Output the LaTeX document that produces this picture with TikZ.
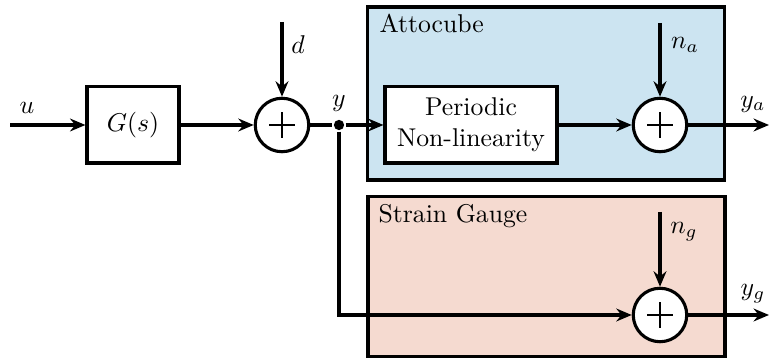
\documentclass[tikz,border=0pt]{standalone}
\usetikzlibrary{arrows.meta}
\definecolor{attoblue}{RGB}{204,228,241}
\definecolor{gaugered}{RGB}{245,218,208}
\begin{document}
\begin{tikzpicture}[x=0.389pt,y=-0.389pt, line width=1.2pt,
  >={Stealth[length=6pt,width=5pt,inset=2pt]},
  blockbox/.style={draw, fill=white, inner sep=0pt, minimum height=29.6pt},
  groupbox/.style={draw, inner sep=0pt, minimum width=138.9pt},
  sumnode/.style={draw, circle, fill=white, minimum size=20.8pt, inner sep=0pt,
    path picture={\draw[line width=0.5pt] ([xshift=-5pt]path picture bounding box.center) -- ([xshift=5pt]path picture bounding box.center);
                  \draw[line width=0.5pt] ([yshift=-5pt]path picture bounding box.center) -- ([yshift=5pt]path picture bounding box.center);}},
  lbl/.style={inner sep=0pt}
]
\useasboundingbox (0,0) rectangle (769,358);
% group boxes
\node[groupbox, fill=attoblue, minimum height=67.3pt] (atto) at (546,93.5) {};
\node[groupbox, fill=gaugered, minimum height=61.9pt] (gauge) at (546.5,276.5) {};
\node[lbl, anchor=base west] (attolbl) at (378,33) {Attocube};
\node[lbl, anchor=base west] (gaugelbl) at (377,223) {Strain Gauge};
% blocks
\node[blockbox, minimum width=35.8pt] (G) at (133,125) {$G(s)$};
\node[blockbox, minimum width=66.9pt, align=center] (P) at (471,125) {Periodic\\Non-linearity};
\node[sumnode] (s1) at (282,125) {};
\node[sumnode] (s2) at (660,125) {};
\node[sumnode] (s3) at (660,315) {};
\node[circle, fill=black, inner sep=0pt, minimum size=4pt] (dot) at (339,125) {};
% free ends
\coordinate (uin) at (10,125);
\coordinate (din) at (282,22);
\coordinate (nain) at (660,23);
\coordinate (ngin) at (660,212);
\coordinate (yaout) at (769,125);
\coordinate (ygout) at (769,315);
% connectors
\draw[->] (uin) -- (G);
\draw[->] (G) -- (s1);
\draw[->] (din) -- (s1);
\draw (s1) -- (dot);
\draw[->] (dot) -- (P);
\draw[->] (P) -- (s2);
\draw[->] (nain) -- (s2);
\draw[->] (s2) -- (yaout);
\draw[->] (dot) |- (s3);
\draw[->] (ngin) -- (s3);
\draw[->] (s3) -- (ygout);
% labels
\node[lbl] (ulbl) at (27,108) {$u$};
\node[lbl] (dlbl) at (298,45) {$d$};
\node[lbl] (ylbl) at (339,103) {$y$};
\node[lbl] (nalbl) at (685,45) {$n_a$};
\node[lbl] (yalbl) at (753,104) {$y_a$};
\node[lbl] (nglbl) at (684,232) {$n_g$};
\node[lbl] (yglbl) at (753,294) {$y_g$};
\end{tikzpicture}
\end{document}
